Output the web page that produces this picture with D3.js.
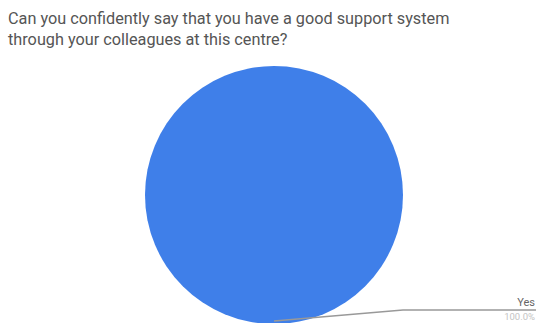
<!DOCTYPE html>
<html>
<head>
<meta charset="utf-8">
<script src="https://cdn.jsdelivr.net/npm/d3@7"></script>
<style>
  html, body { margin: 0; padding: 0; background: #fff; }
  svg { display: block; }
</style>
</head>
<body>
<svg id="chart" width="536" height="323"></svg>
<script>
// Survey answers and their shares (percent)
const categories = ["Yes"];
const values = [100];
const titleLines = [
  "Can you confidently say that you have a good support system",
  "through your colleagues at this centre?"
];
const sliceColors = ["#3f7fe9"];

const svg = d3.select("#chart");
const W = 536, H = 323;

// Title
svg.append("text")
  .attr("x", 8)
  .attr("y", 24)
  .attr("font-family", "Roboto, sans-serif")
  .attr("font-size", 16.25)
  .attr("fill", "#555")
  .selectAll("tspan")
  .data(titleLines)
  .join("tspan")
  .attr("x", 8)
  .attr("dy", (d, i) => i === 0 ? 0 : 21)
  .text(d => d);

// Pie
const cx = 274, cy = 195, radius = 129;
const pie = d3.pie().sort(null).value(d => d.value);
const arcs = pie(categories.map((c, i) => ({ label: c, value: values[i] })));
const arc = d3.arc().innerRadius(0).outerRadius(radius);
const color = d3.scaleOrdinal().domain(categories).range(sliceColors);

const g = svg.append("g").attr("transform", `translate(${cx},${cy})`);
g.selectAll("path.slice")
  .data(arcs)
  .join("path")
  .attr("class", "slice")
  .attr("d", arc)
  .attr("fill", d => color(d.data.label));

// Leader lines and outside labels, right-aligned at the right edge
const total = d3.sum(values);
arcs.forEach(d => {
  const mid = (d.startAngle + d.endAngle) / 2;
  const start = [Math.sin(mid) * (radius - 3), -Math.cos(mid) * (radius - 3)];
  const elbow = [403 - cx, 310 - cy];
  const end = [W - cx, 310 - cy];
  g.append("path")
    .attr("d", d3.line()([start, elbow, end]))
    .attr("fill", "none")
    .attr("stroke", "#999")
    .attr("stroke-width", 1.3);
  g.append("text")
    .attr("x", end[0] - 1)
    .attr("y", end[1] - 4)
    .attr("text-anchor", "end")
    .attr("font-family", "Roboto, sans-serif")
    .attr("font-size", 11)
    .attr("fill", "#666")
    .text(d.data.label);
  g.append("text")
    .attr("x", end[0] - 1)
    .attr("y", end[1] + 10)
    .attr("text-anchor", "end")
    .attr("font-family", "Roboto, sans-serif")
    .attr("font-size", 9.5)
    .attr("fill", "#c4c4c4")
    .text(d3.format(".1f")(d.value / total * 100) + "%");
});
</script>
</body>
</html>
